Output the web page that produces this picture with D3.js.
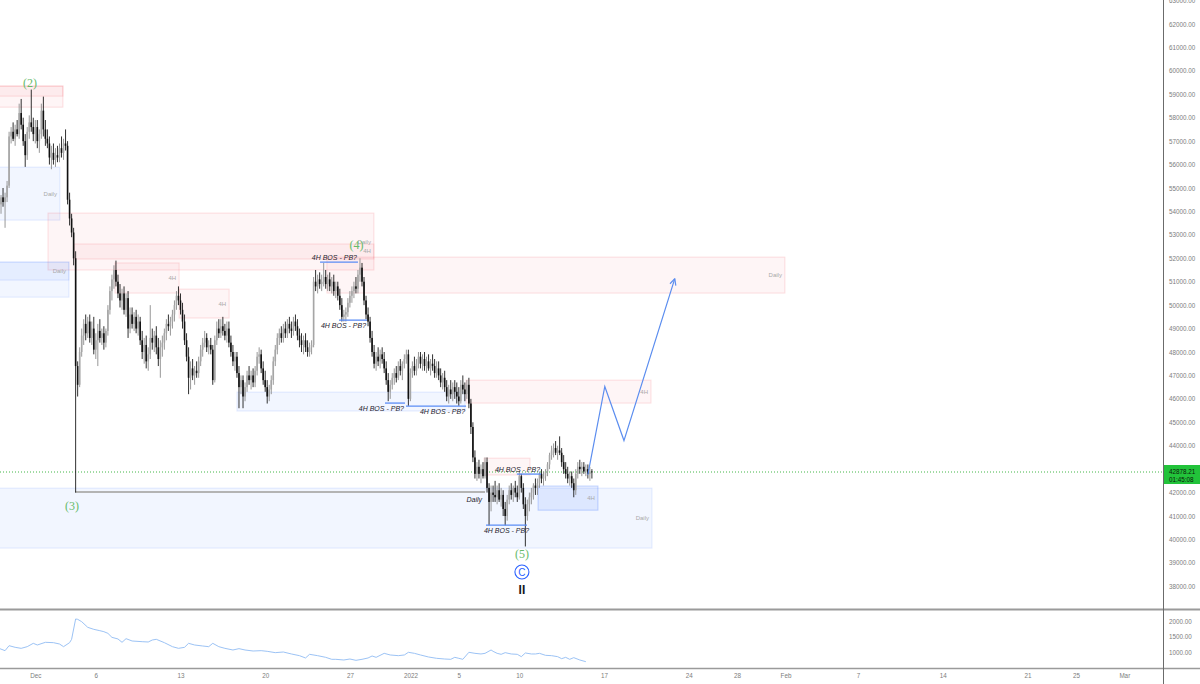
<!DOCTYPE html>
<html>
<head>
<meta charset="utf-8">
<script src="https://cdn.jsdelivr.net/npm/d3@7"></script>
<style>
body { margin: 0; background: #fff; }
svg { display: block; font-family: "Liberation Sans", Arial, sans-serif; }
</style>
</head>
<body>
<svg id="chart" width="1200" height="684"></svg>
<script>
// BTCUSD 4H candles, [open, high, low, close] in thousands, first bar 2021-11-28 00:00 UTC
var candles = [
  [54.5,54.9,54.1,54.3],[54.3,54.7,53.9,54.6],[54.6,55.0,54.2,54.4],[54.4,54.8,53.3,54.6],[54.6,55.3,54.4,55.1],[55.1,57.4,55.0,57.2],
  [57.2,57.6,56.9,57.4],[57.4,57.8,57.0,57.1],[57.1,57.7,56.8,57.5],[57.5,57.9,57.2,57.3],[57.3,58.6,57.1,58.2],[58.2,58.8,57.5,57.7],
  [57.7,58.0,56.8,57.0],[57.0,57.3,55.9,56.4],[56.4,57.6,56.2,57.4],[57.4,58.1,57.1,57.8],[57.8,59.2,57.4,57.6],[57.6,58.0,57.0,57.3],
  [57.3,57.9,56.9,57.6],[57.6,57.9,56.7,57.0],[57.0,57.5,56.5,57.3],[57.3,58.6,57.1,58.3],[58.3,58.9,57.2,57.5],[57.5,57.9,56.8,57.1],
  [57.1,57.5,56.7,56.9],[56.9,57.2,56.0,56.3],[56.3,56.8,55.8,56.5],[56.5,56.9,56.0,56.2],[56.2,56.7,55.9,56.4],[56.4,56.8,56.1,56.3],
  [56.3,56.9,56.1,56.7],[56.7,57.2,56.3,56.5],[56.5,57.1,56.2,56.9],[56.9,57.5,56.6,56.8],[56.8,57.0,54.3,54.5],[54.5,54.8,53.4,53.7],
  [53.7,53.9,52.9,53.1],[53.1,53.3,51.7,52.0],[52.0,52.3,42.0,47.4],[47.4,47.6,46.1,46.6],[46.6,48.2,46.5,48.0],[48.0,49.0,47.8,48.7],
  [48.7,49.4,48.3,49.2],[49.2,49.6,48.5,48.8],[48.8,49.5,48.6,49.3],[49.3,49.6,48.4,48.6],[48.6,49.3,48.3,49.0],[49.0,49.5,47.9,48.1],
  [48.1,48.8,47.7,48.5],[48.5,49.2,47.4,48.9],[48.9,49.4,48.4,48.6],[48.6,49.0,48.3,48.8],[48.8,49.1,48.1,48.4],[48.4,49.0,48.2,48.9],
  [48.9,50.0,48.7,49.8],[49.8,50.8,49.6,50.6],[50.6,51.3,50.2,51.1],[51.1,51.7,50.7,51.5],[51.5,51.9,50.8,51.0],[51.0,51.3,50.3,50.5],
  [50.5,50.9,49.9,50.2],[50.2,50.7,49.8,50.5],[50.5,50.8,49.6,49.8],[49.8,50.5,49.5,50.3],[50.3,50.6,48.6,49.0],[49.0,49.9,48.8,49.6],
  [49.6,49.9,49.0,49.2],[49.2,49.7,48.9,49.5],[49.5,49.8,48.8,49.0],[49.0,49.6,48.7,49.3],[49.3,49.5,48.3,48.5],[48.5,48.9,47.7,48.0],
  [48.0,48.6,47.5,48.3],[48.3,48.7,47.3,47.6],[47.6,48.2,47.2,47.9],[47.9,50.0,47.7,48.6],[48.6,49.0,48.1,48.4],[48.4,48.9,48.0,48.7],
  [48.7,49.1,47.9,48.2],[48.2,48.6,47.4,47.7],[47.7,48.5,46.9,48.2],[48.2,48.7,47.8,48.4],[48.4,49.0,48.1,48.8],[48.8,49.4,48.5,49.2],
  [49.2,49.6,48.9,49.1],[49.1,49.5,48.7,49.3],[49.3,49.8,49.0,49.6],[49.6,50.2,49.3,50.0],[50.0,50.6,49.8,50.4],[50.4,50.8,50.0,50.2],
  [50.2,50.5,49.6,49.8],[49.8,50.1,49.0,49.3],[49.3,49.6,48.3,48.5],[48.5,48.8,47.6,47.8],[47.8,48.2,46.2,46.9],[46.9,47.6,46.4,47.3],
  [47.3,47.7,46.8,47.0],[47.0,47.4,46.6,47.2],[47.2,47.6,46.9,47.1],[47.1,47.8,46.9,47.6],[47.6,48.3,47.4,48.1],[48.1,48.6,47.8,48.4],
  [48.4,48.9,48.2,48.6],[48.6,48.8,48.0,48.2],[48.2,48.5,47.9,48.3],[48.3,48.6,47.9,48.1],[48.1,48.3,46.6,46.8],[46.8,48.7,46.7,48.5],
  [48.5,49.3,48.3,49.0],[49.0,49.4,48.6,48.8],[48.8,49.4,48.6,49.1],[49.1,49.5,48.7,48.9],[48.9,49.2,48.5,48.7],[48.7,49.3,48.4,49.0],
  [49.0,49.3,48.2,48.4],[48.4,48.7,47.8,48.0],[48.0,48.3,47.4,47.6],[47.6,48.0,47.2,47.8],[47.8,48.0,46.9,47.1],[47.1,47.4,45.6,46.5],
  [46.5,47.0,46.2,46.8],[46.8,47.0,45.6,46.1],[46.1,46.7,45.9,46.5],[46.5,47.2,46.3,47.0],[47.0,47.4,46.6,46.8],[46.8,47.2,46.4,47.0],
  [47.0,47.3,46.5,46.7],[46.7,47.4,46.5,47.2],[47.2,48.0,47.0,47.8],[47.8,48.2,47.5,47.9],[47.9,48.1,47.1,47.3],[47.3,47.6,46.6,46.8],
  [46.8,47.2,46.3,46.5],[46.5,46.8,45.8,46.1],[46.1,46.6,45.9,46.4],[46.4,47.0,46.2,46.8],[46.8,47.8,46.6,47.6],[47.6,48.3,47.4,48.1],
  [48.1,48.8,47.9,48.6],[48.6,49.0,48.3,48.8],[48.8,49.1,48.4,48.6],[48.6,49.2,48.4,49.0],[49.0,49.3,48.6,48.8],[48.8,49.4,48.6,49.2],
  [49.2,49.5,48.8,49.0],[49.0,49.3,48.6,48.9],[48.9,49.5,48.7,49.3],[49.3,49.6,48.9,49.1],[49.1,49.4,48.5,48.7],[48.7,49.0,48.2,48.5],
  [48.5,48.8,48.0,48.3],[48.3,48.7,47.9,48.5],[48.5,48.8,48.0,48.2],[48.2,48.5,47.8,48.0],[48.0,48.4,47.8,48.2],[48.2,48.5,47.9,48.3],
  [48.3,51.2,48.2,51.0],[51.0,51.5,50.6,50.8],[50.8,51.3,50.5,51.1],[51.1,51.4,50.7,50.9],[50.9,51.3,50.6,51.0],[51.0,51.8,50.8,51.2],
  [51.2,51.5,50.7,50.9],[50.9,51.3,50.6,51.1],[51.1,51.4,50.6,50.8],[50.8,51.2,50.5,51.0],[51.0,51.3,50.4,50.6],[50.6,51.0,50.3,50.8],
  [50.8,51.0,50.2,50.4],[50.4,50.7,49.8,50.0],[50.0,50.3,49.3,49.5],[49.5,49.8,49.3,49.6],[49.6,49.9,49.3,49.7],[49.7,50.3,49.5,50.1],
  [50.1,50.6,49.9,50.4],[50.4,50.8,50.1,50.6],[50.6,51.0,50.3,50.8],[50.8,51.2,50.5,50.7],[50.7,51.5,50.5,51.3],[51.3,52.0,51.0,51.6],
  [51.6,51.8,50.8,51.0],[51.0,51.2,50.0,50.2],[50.2,50.4,49.4,49.6],[49.6,49.9,49.1,49.3],[49.3,49.5,48.4,48.6],[48.6,48.9,47.8,48.0],
  [48.0,48.3,47.3,47.5],[47.5,48.0,47.2,47.8],[47.8,48.2,47.4,47.6],[47.6,48.1,47.3,47.9],[47.9,48.2,47.5,47.7],[47.7,48.0,47.1,47.3],
  [47.3,47.6,46.6,46.8],[46.8,47.1,45.9,46.3],[46.3,46.8,46.0,46.6],[46.6,47.1,46.4,46.9],[46.9,47.3,46.6,47.1],[47.1,47.4,46.7,46.9],
  [46.9,47.6,46.8,47.4],[47.4,47.7,47.0,47.2],[47.2,47.6,46.8,47.5],[47.5,47.9,47.3,47.7],[47.7,48.1,47.5,47.9],[47.9,48.1,45.7,46.0],
  [46.0,47.3,45.9,47.1],[47.1,47.6,46.9,47.4],[47.4,47.8,47.0,47.2],[47.2,47.7,47.0,47.5],[47.5,48.0,47.3,47.8],[47.8,48.0,47.3,47.5],
  [47.5,47.9,47.2,47.7],[47.7,48.0,47.2,47.4],[47.4,47.8,47.1,47.6],[47.6,47.9,47.2,47.3],[47.3,47.7,47.0,47.5],[47.5,47.9,47.2,47.4],
  [47.4,47.7,46.9,47.1],[47.1,47.6,46.9,47.3],[47.3,47.6,46.8,47.0],[47.0,47.3,46.5,46.7],[46.7,47.1,46.4,46.9],[46.9,47.2,46.3,46.5],
  [46.5,46.8,45.9,46.1],[46.1,46.6,45.8,46.4],[46.4,46.8,46.0,46.2],[46.2,46.7,45.9,46.5],[46.5,46.8,46.0,46.3],[46.3,46.7,45.8,46.1],
  [46.1,46.5,45.7,45.9],[45.9,46.8,45.8,46.6],[46.6,47.0,46.2,46.4],[46.4,46.7,45.9,46.2],[46.2,46.8,46.0,46.6],[46.6,46.9,45.6,45.8],
  [45.8,46.0,44.5,44.8],[44.8,45.0,43.3,43.5],[43.5,43.8,42.6,42.8],[42.8,43.3,42.5,43.1],[43.1,43.4,42.6,42.8],[42.8,43.2,42.4,43.0],
  [43.0,43.3,42.6,42.7],[42.7,43.5,42.6,43.3],[43.3,43.5,42.0,42.2],[42.2,42.4,40.6,41.6],[41.6,42.3,41.2,42.0],[42.0,42.3,41.6,41.9],
  [41.9,42.5,41.6,41.8],[41.8,42.3,41.5,42.1],[42.1,42.4,41.6,41.7],[41.7,42.2,41.4,41.9],[41.9,42.1,41.0,41.3],[41.3,41.6,40.6,41.0],
  [41.0,41.9,40.8,41.7],[41.7,42.3,41.5,42.1],[42.1,42.4,41.7,41.9],[41.9,42.3,41.6,42.2],[42.2,42.5,41.8,42.0],[42.0,42.3,41.6,41.8],
  [41.8,42.9,41.7,42.7],[42.7,42.8,42.0,42.2],[42.2,42.4,41.3,41.5],[41.5,41.8,39.7,41.0],[41.0,41.7,40.8,41.5],[41.5,42.0,41.2,41.8],
  [41.8,42.2,41.5,42.0],[42.0,42.4,41.7,42.3],[42.3,42.6,41.9,42.2],[42.2,42.6,41.9,42.4],[42.4,42.9,42.2,42.8],[42.8,43.0,42.4,42.6],
  [42.6,42.9,42.3,42.7],[42.7,43.0,42.5,42.9],[42.9,43.3,42.7,43.2],[43.2,43.7,43.0,43.6],[43.6,44.0,43.4,43.8],[43.8,44.1,43.5,43.9],
  [43.9,44.2,43.6,43.7],[43.7,44.0,43.4,43.8],[43.8,44.4,43.6,43.7],[43.7,43.9,43.1,43.3],[43.3,43.6,42.8,43.0],[43.0,43.3,42.6,42.8],
  [42.8,43.1,42.4,42.6],[42.6,42.9,42.3,42.7],[42.7,42.9,42.2,42.4],[42.4,42.6,41.8,42.1],[42.1,43.0,41.9,42.8],[42.8,43.3,42.6,43.1],
  [43.1,43.4,42.8,43.0],[43.0,43.3,42.7,43.1],[43.1,43.3,42.8,42.9],[42.9,43.2,42.7,43.0],[43.0,43.2,42.6,42.8],[42.8,43.1,42.5,42.9],
  [42.9,43.0,42.6,42.87821]
];

// lower pane oscillator: bar index and value
var osc_bar = [0,3,5,8,11,14,17,19,23,27,30,32,35,36,38,39,41,44,47,50,52,54,56,59,61,63,66,71,74,76,
  78,82,86,89,92,94,97,101,104,106,109,112,116,119,122,126,130,133,137,141,145,149,152,154,158,162,165,167,171,174,
  177,180,183,185,187,191,194,198,201,203,206,209,213,217,221,224,226,228,230,233,236,239,241,244,245,247,249,251,254,257,
  259,261,264,266,268,271,274,277,279,281,283,285,288,291];
var osc_val = [1118,1043,1204,1151,1118,1172,1280,1226,1312,1301,1258,1172,1301,1409,2065,2054,1978,1796,1731,1688,1656,1602,1473,1420,1312,1430,1355,1333,1323,1387,
  1409,1301,1172,1118,1151,1280,1226,1194,1172,1280,1172,1118,1065,1108,1065,1032,1043,1022,979,1000,936,882,807,925,882,828,764,764,742,774,
  731,764,807,871,828,957,904,882,904,990,957,904,839,796,774,764,828,796,764,990,957,936,957,1065,1022,957,925,979,936,925,
  850,968,936,936,957,893,882,850,785,828,764,818,742,688];

var price_ticks = [38000,39000,40000,41000,42000,43000,44000,45000,46000,47000,48000,49000,50000,51000,52000,53000,
  54000,55000,56000,57000,58000,59000,60000,61000,62000,63000];
var osc_ticks = [1000, 1500, 2000];
var date_ticks = ['2021-12-01','2021-12-06','2021-12-13','2021-12-20','2021-12-27','2022-01-01','2022-01-05','2022-01-10',
  '2022-01-17','2022-01-24','2022-01-28','2022-02-01','2022-02-07','2022-02-14','2022-02-21','2022-02-25','2022-03-01'];
var date_labels = ['Dec','6','13','20','27','2022','5','10','17','24','28','Feb','7','14','21','25','Mar'];

var last_price = 42878.21;
var countdown = '01:45:08';

// zones: [bar from, bar to, price top, price bottom, kind, label]
var zones = [
  [-3, 31.7, 59350, 58450, 'supply', ''],
  [-3, 31.7, 59350, 58920, 'supply', ''],
  [-3, 30.2, 55890, 53630, 'demand', 'Daily'],
  [24.3, 185.9, 53930, 51500, 'supply', 'Daily'],
  [37.2, 185.9, 52610, 51970, 'supply', '4H'],
  [-3, 34.7, 51840, 50340, 'demand', ''],
  [-3, 34.7, 51840, 51070, 'demand', 'Daily'],
  [57.5, 89.3, 51800, 50515, 'supply', '4H'],
  [89.3, 114.1, 50685, 49450, 'supply', '4H'],
  [118, 231.1, 46290, 45480, 'demand', ''],
  [162.6, 389.7, 52050, 50515, 'supply', 'Daily'],
  [231.6, 323.3, 46800, 45820, 'supply', '4H'],
  [240.5, 263.3, 43470, 42750, 'supply', ''],
  [-3, 323.8, 42190, 39630, 'demand', 'Daily'],
  [267.3, 297, 42280, 41250, 'demand4h', '4H']
];

// break of structure lines: [bar from, bar to, price, side, text anchor]
var bos_lines = [
  [159.2, 178, 51840, 'above', 'end'],
  [168.6, 182.5, 49360, 'below', 'end'],
  [191.4, 201.3, 45820, 'below', 'end'],
  [201.8, 231.6, 45690, 'below', 'end'],
  [241.5, 261.8, 40610, 'below', 'middle'],
  [256.8, 268.8, 42790, 'above', 'end']
];
var bos_text = '4H BOS - PB?';

var low_line = [37.8, 241, 42020];

var waves = [
  [15.4, 59480, '(2)'],
  [36.2, 41420, '(3)'],
  [177.3, 52560, '(4)'],
  [259.3, 39380, '(5)']
];

var proj_bar = [292, 300.4, 309.9, 335.1];
var proj_price = [42770, 46530, 44220, 51130];

var svg = d3.select('#chart');
var axisX = 1163;
var paneBottom = 608;

var dec1 = Date.UTC(2021, 11, 1);
var dayMs = 864e5;
var x = d3.scaleUtc()
    .domain([new Date(dec1 - 35.3 / 12.1 * dayMs), new Date(dec1 + (axisX - 35.3) / 12.1 * dayMs)])
    .range([0, axisX]);
var y = d3.scaleLinear().domain([38000, 63000]).range([586.3, 0.55]);
var yo = d3.scaleLinear().domain([1000, 2000]).range([652, 621]);

var barTime = function(i) {
    return new Date(Date.UTC(2021, 10, 28) + i * 4 * 36e5);
};
var bx = function(i) { return x(barTime(i)); };

svg.append('defs').append('clipPath').attr('id', 'main-clip')
    .append('rect').attr('x', 0).attr('y', 0).attr('width', axisX).attr('height', paneBottom);

var main = svg.append('g').attr('clip-path', 'url(#main-clip)');

// zones
var zoneFill = { supply: 'rgba(242,54,69,0.05)', demand: 'rgba(41,98,255,0.06)', demand4h: 'rgba(41,98,255,0.1)' };
var zoneStroke = { supply: 'rgba(242,54,69,0.15)', demand: 'rgba(41,98,255,0.12)', demand4h: 'rgba(41,98,255,0.25)' };

main.selectAll('rect.zone')
    .data(zones)
    .join('rect')
    .attr('class', 'zone')
    .attr('x', function(d) { return bx(d[0]); })
    .attr('width', function(d) { return bx(d[1]) - bx(d[0]); })
    .attr('y', function(d) { return y(d[2]); })
    .attr('height', function(d) { return y(d[3]) - y(d[2]); })
    .style('fill', function(d) { return zoneFill[d[4]]; })
    .style('stroke', function(d) { return zoneStroke[d[4]]; })
    .style('stroke-width', 1);

main.selectAll('text.zone-label')
    .data(zones.filter(function(d) { return d[5]; }))
    .join('text')
    .attr('x', function(d) { return bx(d[1]) - 3; })
    .attr('y', function(d) { return (y(d[2]) + y(d[3])) / 2 + 2; })
    .attr('text-anchor', 'end')
    .style('font-size', '6px')
    .style('fill', '#a9a9a9')
    .text(function(d) { return d[5]; });

// (3) low level
main.append('line')
    .attr('x1', bx(low_line[0])).attr('x2', bx(low_line[1]))
    .attr('y1', y(low_line[2])).attr('y2', y(low_line[2]))
    .style('stroke', '#b4b4b4').style('stroke-width', 2);

// last price line
main.append('line')
    .attr('x1', 0).attr('x2', axisX)
    .attr('y1', y(last_price)).attr('y2', y(last_price))
    .style('stroke', '#43b649').style('stroke-width', 1).style('stroke-dasharray', '1,2');

// candles
var candleG = main.append('g');
candleG.selectAll('line.wick')
    .data(candles)
    .join('line')
    .attr('class', 'wick')
    .attr('x1', function(d, i) { return bx(i); })
    .attr('x2', function(d, i) { return bx(i); })
    .attr('y1', function(d) { return y(d[1] * 1000); })
    .attr('y2', function(d) { return y(d[2] * 1000); })
    .style('stroke', function(d) { return d[3] >= d[0] ? '#8c8c8c' : '#1a1a1a'; })
    .style('stroke-width', 0.9);

candleG.selectAll('rect.body')
    .data(candles)
    .join('rect')
    .attr('class', 'body')
    .attr('x', function(d, i) { return bx(i) - 0.8; })
    .attr('width', 1.6)
    .attr('y', function(d) { return y(Math.max(d[0], d[3]) * 1000); })
    .attr('height', function(d) { return Math.max(0.8, Math.abs(y(d[0] * 1000) - y(d[3] * 1000))); })
    .style('fill', function(d) { return d[3] >= d[0] ? '#a6a6a6' : '#111'; });

// BOS lines
main.selectAll('line.bos')
    .data(bos_lines)
    .join('line')
    .attr('class', 'bos')
    .attr('x1', function(d) { return bx(d[0]); })
    .attr('x2', function(d) { return bx(d[1]); })
    .attr('y1', function(d) { return y(d[2]); })
    .attr('y2', function(d) { return y(d[2]); })
    .style('stroke', '#5a8cf5').style('stroke-width', 1.3);

main.selectAll('text.bos')
    .data(bos_lines)
    .join('text')
    .attr('class', 'bos')
    .attr('x', function(d) { return d[4] == 'end' ? bx(d[1]) - 1 : (bx(d[0]) + bx(d[1])) / 2; })
    .attr('y', function(d) { return d[3] == 'above' ? y(d[2]) - 2 : y(d[2]) + 8; })
    .attr('text-anchor', function(d) { return d[4]; })
    .style('font-size', '7px')
    .style('font-style', 'italic')
    .style('fill', '#1e222d')
    .text(bos_text);

main.append('text')
    .attr('x', bx(240.5) - 2)
    .attr('y', y(41580))
    .attr('text-anchor', 'end')
    .style('font-size', '7px')
    .style('font-style', 'italic')
    .style('fill', '#1e222d')
    .text('Daily');

// projection
var projPts = proj_bar.map(function(b, i) { return [bx(b), y(proj_price[i])]; });
main.append('path')
    .attr('d', d3.line()(projPts))
    .style('fill', 'none').style('stroke', '#5b8def').style('stroke-width', 1.2);
var pe = projPts[projPts.length - 1], pp = projPts[projPts.length - 2];
var ang = Math.atan2(pe[1] - pp[1], pe[0] - pp[0]);
[-0.45, 0.45].forEach(function(a) {
    main.append('line')
        .attr('x1', pe[0]).attr('y1', pe[1])
        .attr('x2', pe[0] - 7 * Math.cos(ang + a)).attr('y2', pe[1] - 7 * Math.sin(ang + a))
        .style('stroke', '#5b8def').style('stroke-width', 1.2);
});

// wave labels
main.selectAll('text.wave')
    .data(waves)
    .join('text')
    .attr('x', function(d) { return bx(d[0]); })
    .attr('y', function(d) { return y(d[1]) + 4; })
    .attr('text-anchor', 'middle')
    .style('font-family', '"Liberation Serif", serif')
    .style('font-size', '12px')
    .style('fill', '#66bb6a')
    .text(function(d) { return d[2]; });

var cx = bx(259.3);
main.append('circle').attr('cx', cx).attr('cy', y(38610)).attr('r', 7)
    .style('fill', '#fff').style('stroke', '#2962ff').style('stroke-width', 1.1);
main.append('text').attr('x', cx).attr('y', y(38610) + 3.5).attr('text-anchor', 'middle')
    .style('font-size', '10px').style('fill', '#2962ff').text('C');
main.append('text').attr('x', cx).attr('y', y(37880) + 5).attr('text-anchor', 'middle')
    .style('font-size', '12px').style('font-weight', 'bold').style('fill', '#131722').text('II');

// oscillator pane
svg.append('path')
    .datum(osc_bar.map(function(b, i) { return [bx(b), yo(osc_val[i])]; }))
    .attr('d', d3.line())
    .style('fill', 'none').style('stroke', '#9cc3f5').style('stroke-width', 1);

// frame lines
svg.append('line').attr('x1', 0).attr('x2', 1200).attr('y1', 609.5).attr('y2', 609.5)
    .style('stroke', '#9a9a9a').style('stroke-width', 2);
svg.append('line').attr('x1', 0).attr('x2', 1200).attr('y1', 668.5).attr('y2', 668.5)
    .style('stroke', '#9a9a9a').style('stroke-width', 1.5);
svg.append('line').attr('x1', axisX + 0.5).attr('x2', axisX + 0.5).attr('y1', 0).attr('y2', 684)
    .style('stroke', '#6b6b6b').style('stroke-width', 1);

// axes
var priceAxis = svg.append('g')
    .attr('transform', 'translate(' + axisX + ',0)')
    .call(d3.axisRight(y).tickValues(price_ticks).tickSize(0).tickPadding(6)
        .tickFormat(function(d) { return d.toFixed(2); }));
var oscAxis = svg.append('g')
    .attr('transform', 'translate(' + axisX + ',0)')
    .call(d3.axisRight(yo).tickValues(osc_ticks).tickSize(0).tickPadding(6)
        .tickFormat(function(d) { return d.toFixed(2); }));
var timeAxis = svg.append('g')
    .attr('transform', 'translate(0,669)')
    .call(d3.axisBottom(x).tickValues(date_ticks.map(function(s) { return new Date(s + 'T00:00:00Z'); }))
        .tickSize(0).tickPadding(5)
        .tickFormat(function(d, i) { return date_labels[i]; }));

[priceAxis, oscAxis, timeAxis].forEach(function(g) {
    g.select('.domain').remove();
    g.selectAll('text')
        .style('font-family', '"Liberation Sans", Arial, sans-serif')
        .style('font-size', '6.3px')
        .style('fill', '#7d7d7d');
});

// last price tag
var ly = y(last_price);
svg.append('rect').attr('x', axisX + 1).attr('y', ly - 7).attr('width', 37).attr('height', 19)
    .style('fill', '#22c33a');
svg.append('text').attr('x', axisX + 6).attr('y', ly + 2).text(d3.format('.2f')(last_price))
    .style('font-size', '6.3px').style('fill', '#0b1a0b');
svg.append('text').attr('x', axisX + 6).attr('y', ly + 9.5).text(countdown)
    .style('font-size', '6.3px').style('fill', '#0b1a0b');
</script>
</body>
</html>
